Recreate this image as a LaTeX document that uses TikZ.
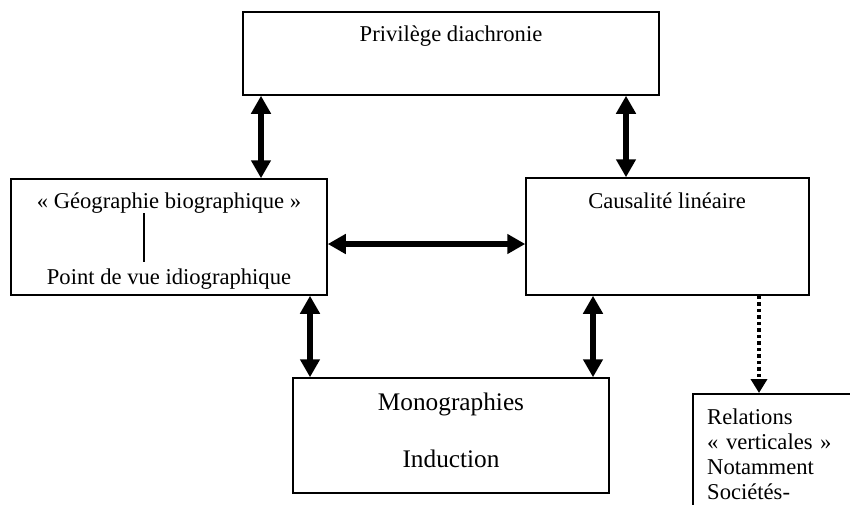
\documentclass[tikz,border=0pt]{standalone}
\usepackage{fontspec}
\setmainfont{Liberation Serif}
\usetikzlibrary{arrows.meta,positioning}

\begin{document}
\begin{tikzpicture}[x=1pt,y=-1pt,
	box/.style={draw, line width=1.5pt, inner sep=0pt},
	lbl/.style={inner sep=0pt, anchor=base, font=\fontsize{22.6}{25}\selectfont},
	biglbl/.style={lbl, font=\fontsize{25.3}{28}\selectfont},
	dbl/.style={line width=5.5pt, {Triangle[width=19pt,length=18pt]}-{Triangle[width=19pt,length=18pt]}},
	dotarrow/.style={line width=3.5pt, dash pattern=on 3.5pt off 3pt, -{Triangle[width=16pt,length=14pt]}}]
	\useasboundingbox (0,0) rectangle (850,504);
	\clip (0,0) rectangle (850,504);

	% boxes
	\node[box, minimum width=416pt, minimum height=83pt] (prive) at (451,53.5) {};
	\node[box, minimum width=316pt, minimum height=116pt] (geo) at (169,237) {};
	\node[box, minimum width=283pt, minimum height=117pt] (causa) at (667.5,236.5) {};
	\node[box, minimum width=316pt, minimum height=115pt] (mono) at (451,435.5) {};
	\node[box, anchor=north west, minimum width=190pt, minimum height=130pt] (rel) at (692,393) {};

	% texts
	\node[lbl] (tprive) at (451,41) {Privilège diachronie};
	\node[lbl] (tgeo) at (169,208) {«~Géographie biographique~»};
	\node[lbl] (tidio) at (169,284) {Point de vue idiographique};
	\node[lbl] (tcausa) at (667,208) {Causalité linéaire};
	\node[biglbl] (tmono) at (451,410) {Monographies};
	\node[biglbl] (tinduc) at (451,467) {Induction};
	\node[lbl, anchor=base west, text width=150pt, align=left] (trel) at (707,424)
		{Relations\\«~verticales~»\\Notamment\\Sociétés-};

	\draw[line width=1.5pt, shorten >=6.5pt] (144,0 |- tgeo.south) -- (144,0 |- tidio.north);

	% arrows
	\draw[dbl] (261,0 |- geo.north) -- (261,0 |- prive.south);
	\draw[dbl] (626,0 |- causa.north) -- (626,0 |- prive.south);
	\draw[dbl] (geo.east |- 0,244) -- (causa.west |- 0,244);
	\draw[dbl] (310,0 |- geo.south) -- (310,0 |- mono.north);
	\draw[dbl] (593,0 |- causa.south) -- (593,0 |- mono.north);
	\draw[dotarrow] (759,0 |- causa.south) -- (759,0 |- rel.north);
\end{tikzpicture}
\end{document}
